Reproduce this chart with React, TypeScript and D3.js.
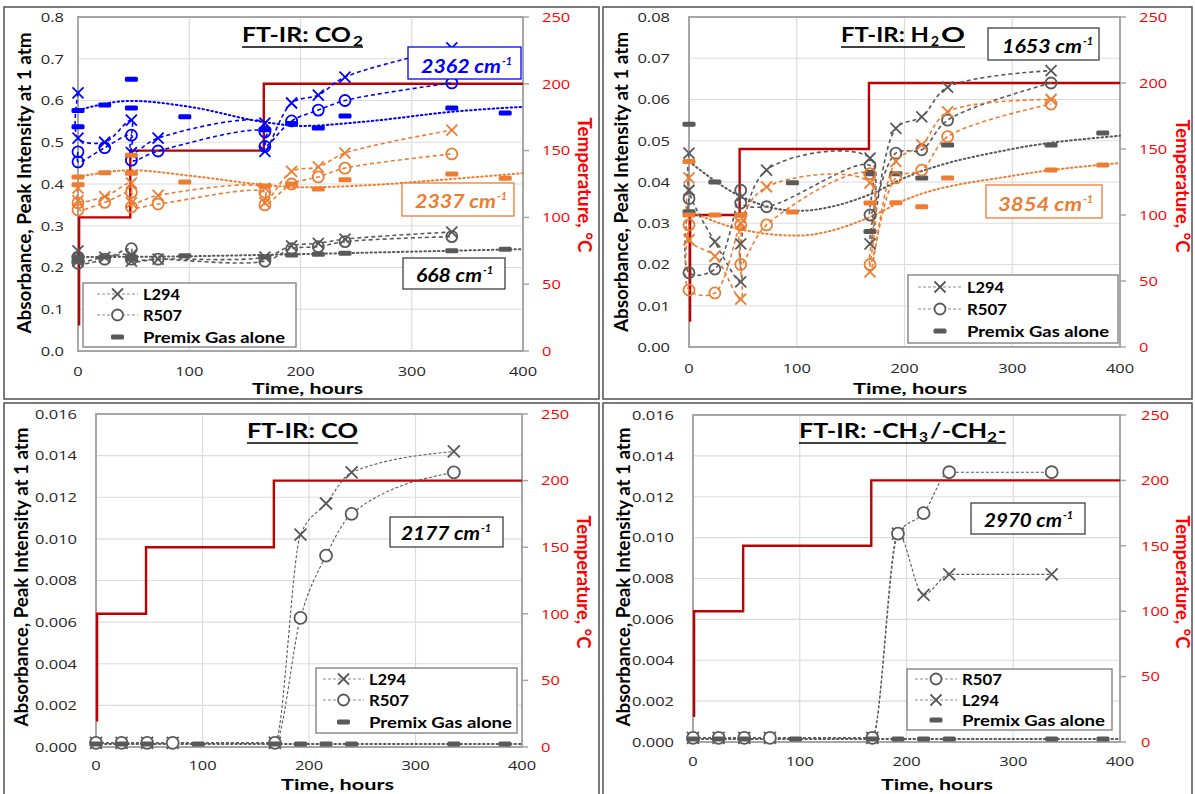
import React from "react";
import * as d3 from "d3";

type Pt = [number, number];

// ---------- shared axes ----------
const timeTicks = [0, 100, 200, 300, 400];
const timeGrid = [100, 200, 300];
const tempTicks = [0, 50, 100, 150, 200, 250];
const co2Ticks = [0, 0.1, 0.2, 0.3, 0.4, 0.5, 0.6, 0.7, 0.8];
const h2oTicks = [0, 0.01, 0.02, 0.03, 0.04, 0.05, 0.06, 0.07, 0.08];
const smallTicks = [0, 0.002, 0.004, 0.006, 0.008, 0.01, 0.012, 0.014, 0.016];

// temperature programme (hours, °C)
const tempProfile: Pt[] = [[0, 20], [1, 20], [1, 100], [47, 100], [47, 150], [167, 150], [167, 200], [400, 200]];

// ---------- FT-IR CO2 ----------
const co2BlueL294: Pt[] = [[0, 0.618], [0, 0.51], [24, 0.5], [48, 0.553], [48, 0.475], [72, 0.51], [168, 0.546], [168, 0.478], [192, 0.594], [216, 0.613], [240, 0.656], [336, 0.726]];
const co2BlueR507: Pt[] = [[0, 0.477], [0, 0.453], [24, 0.487], [48, 0.517], [48, 0.457], [72, 0.479], [168, 0.525], [168, 0.49], [192, 0.551], [216, 0.577], [240, 0.6], [336, 0.642]];
const co2BluePremix: Pt[] = [[0, 0.576], [0, 0.537], [24, 0.589], [48, 0.651], [48, 0.582], [96, 0.561], [168, 0.53], [192, 0.545], [216, 0.534], [240, 0.563], [336, 0.582], [384, 0.57]];
const co2BlueTrend: Pt[] = [[0, 0.577], [48, 0.599], [100, 0.585], [168, 0.548], [200, 0.539], [260, 0.55], [336, 0.573], [400, 0.585]];

const co2OrangeL294: Pt[] = [[0, 0.39], [0, 0.36], [24, 0.37], [48, 0.402], [48, 0.355], [72, 0.373], [168, 0.39], [168, 0.355], [192, 0.43], [216, 0.441], [240, 0.474], [336, 0.529]];
const co2OrangeR507: Pt[] = [[0, 0.355], [0, 0.338], [24, 0.356], [48, 0.38], [48, 0.345], [72, 0.352], [168, 0.38], [168, 0.35], [192, 0.4], [216, 0.417], [240, 0.438], [336, 0.472]];
const co2OrangePremix: Pt[] = [[0, 0.417], [0, 0.398], [24, 0.427], [48, 0.469], [48, 0.426], [96, 0.405], [168, 0.395], [192, 0.4], [216, 0.388], [240, 0.41], [336, 0.424], [384, 0.414]];
const co2OrangeTrend: Pt[] = [[0, 0.417], [48, 0.433], [100, 0.42], [168, 0.398], [200, 0.392], [260, 0.397], [336, 0.412], [400, 0.426]];

const co2GrayL294: Pt[] = [[0, 0.24], [0, 0.215], [24, 0.225], [48, 0.23], [48, 0.215], [72, 0.22], [168, 0.225], [192, 0.252], [216, 0.258], [240, 0.268], [336, 0.285]];
const co2GrayR507: Pt[] = [[0, 0.225], [0, 0.21], [24, 0.22], [48, 0.245], [48, 0.22], [72, 0.22], [168, 0.215], [192, 0.245], [216, 0.25], [240, 0.262], [336, 0.274]];
const co2GrayPremix: Pt[] = [[0, 0.225], [0, 0.215], [24, 0.225], [48, 0.225], [48, 0.22], [96, 0.228], [168, 0.225], [192, 0.23], [216, 0.232], [240, 0.234], [336, 0.24], [384, 0.244]];
const co2GrayTrend: Pt[] = [[0, 0.225], [100, 0.227], [200, 0.232], [300, 0.238], [400, 0.244]];

// ---------- FT-IR H2O ----------
const h2oGrayL294: Pt[] = [[0, 0.047], [0, 0.038], [24, 0.0255], [48, 0.0158], [48, 0.025], [72, 0.0429], [168, 0.0458], [168, 0.025], [192, 0.053], [216, 0.0558], [240, 0.063], [336, 0.067]];
const h2oGrayR507: Pt[] = [[0, 0.036], [0, 0.018], [24, 0.0189], [48, 0.038], [48, 0.0349], [72, 0.034], [168, 0.044], [168, 0.032], [192, 0.047], [216, 0.0478], [240, 0.055], [336, 0.064]];
const h2oGrayPremix: Pt[] = [[0, 0.054], [0, 0.0328], [24, 0.04], [48, 0.032], [96, 0.0398], [168, 0.042], [168, 0.028], [192, 0.042], [216, 0.041], [240, 0.049], [336, 0.049], [384, 0.0519]];
const h2oGrayTrend: Pt[] = [[0, 0.045], [48, 0.0365], [100, 0.033], [168, 0.037], [200, 0.041], [300, 0.048], [400, 0.0512]];

const h2oOrangeL294: Pt[] = [[0, 0.041], [0, 0.026], [24, 0.022], [48, 0.0116], [48, 0.03], [72, 0.0388], [168, 0.0398], [168, 0.0182], [192, 0.045], [216, 0.049], [240, 0.057], [336, 0.06]];
const h2oOrangeR507: Pt[] = [[0, 0.0296], [0, 0.0138], [24, 0.0131], [48, 0.0296], [48, 0.02], [72, 0.0296], [168, 0.042], [168, 0.02], [192, 0.041], [216, 0.0429], [240, 0.051], [336, 0.0589]];
const h2oOrangePremix: Pt[] = [[0, 0.045], [0, 0.032], [24, 0.032], [48, 0.032], [96, 0.0327], [168, 0.0349], [192, 0.035], [216, 0.034], [240, 0.041], [336, 0.0429], [384, 0.0441]];
const h2oOrangeTrend: Pt[] = [[0, 0.033], [48, 0.0285], [100, 0.027], [168, 0.0315], [200, 0.0356], [300, 0.0415], [400, 0.0446]];

// ---------- FT-IR CO ----------
const coL294: Pt[] = [[0, 0.0002], [24, 0.0002], [48, 0.0002], [72, 0.0002], [168, 0.0002], [192, 0.0102], [216, 0.0117], [240, 0.0132], [336, 0.0142]];
const coR507: Pt[] = [[0, 0.0002], [24, 0.0002], [48, 0.0002], [72, 0.0002], [168, 0.0002], [192, 0.0062], [216, 0.0092], [240, 0.0112], [336, 0.0132]];
const coPremix: Pt[] = [[0, 0.00015], [24, 0.00015], [48, 0.00015], [96, 0.00015], [168, 0.00015], [192, 0.00015], [216, 0.00015], [240, 0.00015], [336, 0.00015], [384, 0.00015]];
const coTrend: Pt[] = [[0, 0.00015], [400, 0.00015]];

// ---------- FT-IR -CH3/-CH2- ----------
const chR507: Pt[] = [[0, 0.0002], [24, 0.0002], [48, 0.0002], [72, 0.0002], [168, 0.0002], [192, 0.0102], [216, 0.0112], [240, 0.0132], [336, 0.0132]];
const chL294: Pt[] = [[0, 0.0002], [24, 0.0002], [48, 0.0002], [72, 0.0002], [168, 0.0002], [192, 0.0102], [216, 0.0072], [240, 0.0082], [336, 0.0082]];
const chPremix: Pt[] = [[0, 0.00015], [24, 0.00015], [48, 0.00015], [96, 0.00015], [168, 0.00015], [192, 0.00015], [216, 0.00015], [240, 0.00015], [336, 0.00015], [384, 0.00015]];
const chTrend: Pt[] = [[0, 0.00015], [400, 0.00015]];

// ---------- styles ----------
const BLUE = "#0000ff";
const ORANGE = "#ed7d31";
const GRAY = "#595959";
const TEMP = "#c00000";
const RED_TXT = "#ff0000";
const OPEN = "'Open Sans', 'Noto Sans', sans-serif";
const LATO = "Lato, 'Open Sans', sans-serif";

type Kind = "x" | "o" | "bar";
interface SeriesDef { data: Pt[]; color: string; kind: Kind }
interface TrendDef { data: Pt[]; color: string }
interface NoteDef { box: number[]; color: string; text: string; tx: number; ty: number; tl: number }
interface TitlePart { t: string; x: number; w: number; sub?: boolean }
interface PanelDef {
  frame: number[];
  plot: { x0: number; x1: number; y0: number; y1: number };
  yMax: number; yTicks: number[]; yFmt: string; yGap: number;
  rightX: number; xLabelY: number;
  yTitle: { x: number; cy: number; len: number };
  tTitle: { x: number; cy: number; len: number };
  xTitle: { x0: number; len: number; y: number };
  title: { parts: TitlePart[]; base: number; ul: number };
  series: SeriesDef[]; trends: TrendDef[]; notes: NoteDef[];
  legend: { box: number[]; rows: number[]; s0: number; s1: number; tx: number; items: { label: string; kind: Kind; len: number }[] };
  lineW: number; dash: string; mk: number; fillO: string; mono: boolean;
}

const legendStd = (lens: number[]) => [
  { label: "L294", kind: "x" as Kind, len: lens[0] },
  { label: "R507", kind: "o" as Kind, len: lens[1] },
  { label: "Premix Gas alone", kind: "bar" as Kind, len: lens[2] },
];

const panels: PanelDef[] = [
  {
    frame: [4, 7, 595, 392],
    plot: { x0: 78, x1: 523, y0: 17, y1: 351 },
    yMax: 0.8, yTicks: co2Ticks, yFmt: ".1f", yGap: 14, rightX: 542, xLabelY: 376,
    yTitle: { x: 31, cy: 183, len: 301 }, tTitle: { x: 578, cy: 185, len: 135 },
    xTitle: { x0: 252, len: 111, y: 394 },
    title: { parts: [{ t: "FT-IR: CO", x: 242, w: 109 }, { t: "2", x: 353, w: 10, sub: true }], base: 42, ul: 47 },
    series: [
      { data: co2BlueL294, color: BLUE, kind: "x" }, { data: co2BlueR507, color: BLUE, kind: "o" }, { data: co2BluePremix, color: BLUE, kind: "bar" },
      { data: co2OrangeL294, color: ORANGE, kind: "x" }, { data: co2OrangeR507, color: ORANGE, kind: "o" }, { data: co2OrangePremix, color: ORANGE, kind: "bar" },
      { data: co2GrayL294, color: GRAY, kind: "x" }, { data: co2GrayR507, color: GRAY, kind: "o" }, { data: co2GrayPremix, color: GRAY, kind: "bar" },
    ],
    trends: [{ data: co2BlueTrend, color: BLUE }, { data: co2OrangeTrend, color: ORANGE }, { data: co2GrayTrend, color: GRAY }],
    notes: [
      { box: [408, 47, 113, 32], color: BLUE, text: "2362 cm", tx: 421, ty: 73, tl: 80 },
      { box: [402, 183, 112, 33], color: ORANGE, text: "2337 cm", tx: 415, ty: 208, tl: 81 },
      { box: [403, 258, 102, 31], color: "#000", text: "668 cm", tx: 416, ty: 282, tl: 66 },
    ],
    legend: { box: [83, 283, 213, 64], rows: [294, 315, 337], s0: 97, s1: 138, tx: 143, items: legendStd([37, 39, 142]) },
    lineW: 1.6, dash: "4,3", mk: 5.5, fillO: "none", mono: false,
  },
  {
    frame: [603, 7, 589, 392],
    plot: { x0: 689, x1: 1120, y0: 17, y1: 347 },
    yMax: 0.08, yTicks: h2oTicks, yFmt: ".2f", yGap: 19, rightX: 1139, xLabelY: 373,
    yTitle: { x: 628, cy: 182, len: 300 }, tTitle: { x: 1176, cy: 186, len: 133 },
    xTitle: { x0: 853, len: 114, y: 394 },
    title: { parts: [{ t: "FT-IR: H", x: 841, w: 88 }, { t: "2", x: 931, w: 8, sub: true }, { t: "O", x: 941, w: 24 }], base: 42, ul: 47 },
    series: [
      { data: h2oGrayL294, color: GRAY, kind: "x" }, { data: h2oGrayR507, color: GRAY, kind: "o" }, { data: h2oGrayPremix, color: GRAY, kind: "bar" },
      { data: h2oOrangeL294, color: ORANGE, kind: "x" }, { data: h2oOrangeR507, color: ORANGE, kind: "o" }, { data: h2oOrangePremix, color: ORANGE, kind: "bar" },
    ],
    trends: [{ data: h2oGrayTrend, color: GRAY }, { data: h2oOrangeTrend, color: ORANGE }],
    notes: [
      { box: [988, 28, 111, 32], color: "#000", text: "1653 cm", tx: 1002, ty: 53, tl: 80 },
      { box: [986, 185, 116, 33], color: ORANGE, text: "3854 cm", tx: 998, ty: 211, tl: 84 },
    ],
    legend: { box: [908, 275, 210, 68], rows: [287, 309, 331], s0: 918, s1: 962, tx: 967, items: legendStd([37, 40, 142]) },
    lineW: 1.6, dash: "4,3", mk: 5.5, fillO: "none", mono: false,
  },
  {
    frame: [4, 403, 595, 392],
    plot: { x0: 96, x1: 522, y0: 414, y1: 747 },
    yMax: 0.016, yTicks: smallTicks, yFmt: ".3f", yGap: 19, rightX: 541, xLabelY: 770,
    yTitle: { x: 28, cy: 577, len: 299 }, tTitle: { x: 577, cy: 582, len: 133 },
    xTitle: { x0: 281, len: 113, y: 790 },
    title: { parts: [{ t: "FT-IR: CO", x: 247, w: 111 }], base: 438, ul: 443 },
    series: [
      { data: coL294, color: GRAY, kind: "x" }, { data: coR507, color: GRAY, kind: "o" }, { data: coPremix, color: GRAY, kind: "bar" },
    ],
    trends: [{ data: coTrend, color: GRAY }],
    notes: [{ box: [390, 517, 113, 30], color: "#000", text: "2177 cm", tx: 401, ty: 540, tl: 79 }],
    legend: { box: [316, 668, 201, 65], rows: [679, 700, 722], s0: 323, s1: 364, tx: 369, items: legendStd([37, 40, 143]) },
    lineW: 1.1, dash: "3,2", mk: 6, fillO: "white", mono: true,
  },
  {
    frame: [603, 403, 589, 392],
    plot: { x0: 693, x1: 1120, y0: 415, y1: 742 },
    yMax: 0.016, yTicks: smallTicks, yFmt: ".3f", yGap: 19, rightX: 1141, xLabelY: 766,
    yTitle: { x: 630, cy: 577, len: 299 }, tTitle: { x: 1176, cy: 582, len: 133 },
    xTitle: { x0: 881, len: 112, y: 790 },
    title: {
      parts: [{ t: "FT-IR: -CH", x: 799, w: 119 }, { t: "3", x: 919, w: 9, sub: true }, { t: "/-CH", x: 930, w: 57 }, { t: "2", x: 987, w: 10, sub: true }, { t: "-", x: 998, w: 8 }],
      base: 438, ul: 443,
    },
    series: [
      { data: chL294, color: GRAY, kind: "x" }, { data: chR507, color: GRAY, kind: "o" }, { data: chPremix, color: GRAY, kind: "bar" },
    ],
    trends: [{ data: chTrend, color: GRAY }],
    notes: [{ box: [971, 503, 114, 31], color: "#000", text: "2970 cm", tx: 984, ty: 527, tl: 78 }],
    legend: {
      box: [907, 669, 205, 61], rows: [679, 700, 720], s0: 915, s1: 957, tx: 962,
      items: [{ label: "R507", kind: "o", len: 40 }, { label: "L294", kind: "x", len: 37 }, { label: "Premix Gas alone", kind: "bar", len: 143 }],
    },
    lineW: 1.1, dash: "3,2", mk: 6, fillO: "white", mono: true,
  },
];

function Marker({ kind, cx, cy, color, s, fill }: { kind: Kind; cx: number; cy: number; color: string; s: number; fill: string }) {
  if (kind === "x")
    return (
      <g stroke={color} strokeWidth={1.8}>
        <line x1={cx - s} y1={cy - s} x2={cx + s} y2={cy + s} />
        <line x1={cx - s} y1={cy + s} x2={cx + s} y2={cy - s} />
      </g>
    );
  if (kind === "o") return <circle cx={cx} cy={cy} r={s} fill={fill} stroke={color} strokeWidth={1.8} />;
  return <rect x={cx - 6.5} y={cy - 2.5} width={13} height={5} rx={1.5} fill={color} />;
}

function PanelView({ p }: { p: PanelDef }) {
  const { plot } = p;
  const x = d3.scaleLinear().domain([0, 400]).range([plot.x0, plot.x1]);
  const y = d3.scaleLinear().domain([0, p.yMax]).range([plot.y1, plot.y0]);
  const yT = d3.scaleLinear().domain([0, 250]).range([plot.y1, plot.y0]);
  const sLine = d3.line<Pt>().x(d => x(d[0])).y(d => y(d[1]))
    .curve(p.mono ? d3.curveMonotoneX : d3.curveCatmullRom.alpha(0.5));
  const tLine = d3.line<Pt>().x(d => x(d[0])).y(d => y(d[1])).curve(d3.curveMonotoneX);
  const rLine = d3.line<Pt>().x(d => x(d[0])).y(d => yT(d[1]));
  const fmt = d3.format(p.yFmt);
  const lg = p.legend;
  const lastPart = p.title.parts[p.title.parts.length - 1];
  return (
    <g>
      <rect x={p.frame[0]} y={p.frame[1]} width={p.frame[2]} height={p.frame[3]} fill="white" stroke="#505050" strokeWidth={1.5} />
      {p.yTicks.map(v => (
        <line key={"gy" + v} x1={plot.x0} x2={plot.x1} y1={y(v)} y2={y(v)} stroke="#dcdcdc" strokeWidth={1.2} />
      ))}
      {timeGrid.map(t => (
        <line key={"gx" + t} x1={x(t)} x2={x(t)} y1={plot.y0} y2={plot.y1} stroke="#dcdcdc" strokeWidth={1.2} />
      ))}
      <rect x={plot.x0} y={plot.y0} width={plot.x1 - plot.x0} height={plot.y1 - plot.y0} fill="none" stroke="#a6a6a6" strokeWidth={2} />
      {tempTicks.map(v => (
        <line key={"rt" + v} x1={plot.x1} x2={plot.x1 + 6} y1={yT(v)} y2={yT(v)} stroke="#a6a6a6" strokeWidth={1.5} />
      ))}
      {p.yTicks.map(v => (
        <g key={"yl" + v} transform={`translate(${plot.x0 - p.yGap},${y(v) + 4.8}) scale(1.22,1)`}>
          <text textAnchor="end" fontFamily={OPEN} fontSize={13.5} fill="#262626">{fmt(v)}</text>
        </g>
      ))}
      {tempTicks.map(v => (
        <g key={"tl" + v} transform={`translate(${p.rightX},${yT(v) + 4.8}) scale(1.22,1)`}>
          <text textAnchor="start" fontFamily={OPEN} fontSize={13.5} fill={RED_TXT}>{v}</text>
        </g>
      ))}
      {timeTicks.map(t => (
        <g key={"xl" + t} transform={`translate(${x(t)},${p.xLabelY}) scale(1.22,1)`}>
          <text textAnchor="middle" fontFamily={OPEN} fontSize={13.5} fill="#262626">{t}</text>
        </g>
      ))}
      <path d={rLine(tempProfile) || ""} fill="none" stroke={TEMP} strokeWidth={2.4} />
      {p.trends.map((tr, i) => (
        <path key={"tr" + i} d={tLine(tr.data) || ""} fill="none" stroke={tr.color} strokeWidth={2} strokeDasharray="1.5,3" strokeLinecap="round" />
      ))}
      {p.series.filter(s => s.kind !== "bar").map((s, i) => (
        <path key={"sl" + i} d={sLine(s.data) || ""} fill="none" stroke={s.color} strokeWidth={p.lineW} strokeDasharray={p.dash} />
      ))}
      {p.series.map((s, i) =>
        s.data.map((d, j) => (
          <Marker key={"m" + i + "_" + j} kind={s.kind} cx={x(d[0])} cy={y(d[1])} color={s.color} s={p.mk} fill={p.fillO} />
        ))
      )}
      <rect x={lg.box[0]} y={lg.box[1]} width={lg.box[2]} height={lg.box[3]} fill="white" stroke="#8c8c8c" strokeWidth={1.5} />
      {lg.items.map((it, i) => {
        const cy = lg.rows[i];
        const mid = (lg.s0 + lg.s1) / 2;
        return (
          <g key={"lg" + i}>
            {it.kind !== "bar" && <line x1={lg.s0} x2={lg.s1} y1={cy} y2={cy} stroke="#8c8c8c" strokeWidth={1.2} strokeDasharray="3,2" />}
            <Marker kind={it.kind} cx={mid} cy={cy} color={GRAY} s={5.5} fill="white" />
            <text x={lg.tx} y={cy + 5.5} fontFamily={LATO} fontWeight={700} fontSize={15.5} fill="#000" textLength={it.len} lengthAdjust="spacingAndGlyphs">{it.label}</text>
          </g>
        );
      })}
      {p.notes.map((n, i) => (
        <g key={"n" + i}>
          <rect x={n.box[0]} y={n.box[1]} width={n.box[2]} height={n.box[3]} fill="white" stroke={n.color === "#000" ? "#404040" : n.color} strokeWidth={1.3} />
          <text x={n.tx} y={n.ty} fontFamily={LATO} fontWeight={700} fontStyle="italic" fontSize={18} fill={n.color} textLength={n.tl} lengthAdjust="spacingAndGlyphs">{n.text}</text>
          <text x={n.tx + n.tl + 1} y={n.ty - 8} fontFamily={LATO} fontWeight={700} fontStyle="italic" fontSize={11} fill={n.color}>-1</text>
        </g>
      ))}
      {p.title.parts.map((tp, i) => (
        <text key={"t" + i} x={tp.x} y={p.title.base + (tp.sub ? 4 : 0)} fontFamily={LATO} fontWeight={700} fontSize={tp.sub ? 14 : 21} fill="#000" textLength={tp.w} lengthAdjust="spacingAndGlyphs">{tp.t}</text>
      ))}
      <line x1={p.title.parts[0].x} x2={lastPart.x + lastPart.w} y1={p.title.ul} y2={p.title.ul} stroke="#000" strokeWidth={1.6} />
      <text transform={`translate(${p.yTitle.x},${p.yTitle.cy}) rotate(-90)`} textAnchor="middle" fontFamily={LATO} fontWeight={700} fontSize={18} fill="#000" textLength={p.yTitle.len} lengthAdjust="spacingAndGlyphs">Absorbance, Peak Intensity at 1 atm</text>
      <text transform={`translate(${p.tTitle.x},${p.tTitle.cy}) rotate(90)`} textAnchor="middle" fontFamily={LATO} fontWeight={700} fontSize={19} fill={RED_TXT} textLength={p.tTitle.len} lengthAdjust="spacingAndGlyphs">Temperature, °C</text>
      <text x={p.xTitle.x0} y={p.xTitle.y} fontFamily={LATO} fontWeight={700} fontSize={16} fill="#000" textLength={p.xTitle.len} lengthAdjust="spacingAndGlyphs">Time, hours</text>
    </g>
  );
}

export default function App() {
  return (
    <svg width={1195} height={794} viewBox="0 0 1195 794" style={{ position: "absolute", left: 0, top: 0, background: "white" }}>
      <rect x={0} y={0} width={1195} height={794} fill="white" />
      {panels.map((p, i) => <PanelView key={i} p={p} />)}
    </svg>
  );
}
